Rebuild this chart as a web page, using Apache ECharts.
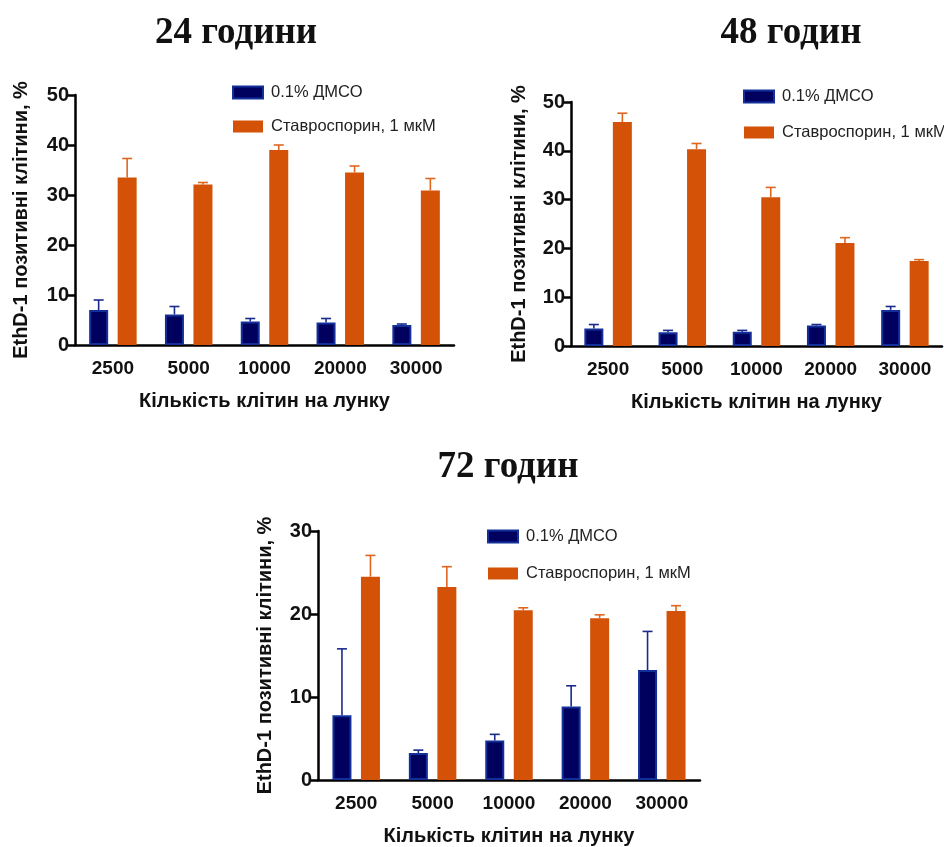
<!DOCTYPE html>
<html><head><meta charset="utf-8">
<script src="https://cdn.jsdelivr.net/npm/echarts@6/dist/echarts.min.js"></script>
<style>html,body{margin:0;padding:0;background:#fff}#c{width:944px;height:847px}</style>
</head><body><div id="c"></div>
<script>
const categories = ['2500','5000','10000','20000','30000'];
const seriesNames = ['0.1% ДМСО','Ставроспорин, 1 мкМ'];
const titles = ['24 години','48 годин','72 годин'];
const yTitle = 'EthD-1 позитивні клітини, %';
const xTitle = 'Кількість клітин на лунку';

const dmso24 = [7.0, 6.1, 4.7, 4.5, 4.0];
const dmso24Sd = [2.0, 1.6, 0.6, 0.8, 0.2];
const stauro24 = [33.5, 32.1, 39.0, 34.5, 30.9];
const stauro24Sd = [3.8, 0.4, 1.0, 1.3, 2.4];

const dmso48 = [3.6, 2.8, 2.9, 4.2, 7.4];
const dmso48Sd = [0.8, 0.4, 0.3, 0.2, 0.7];
const stauro48 = [45.9, 40.3, 30.5, 21.1, 17.4];
const stauro48Sd = [1.8, 1.2, 2.0, 1.1, 0.3];

const dmso72 = [7.8, 3.25, 4.76, 8.85, 13.25];
const dmso72Sd = [8.0, 0.35, 0.74, 2.5, 4.65];
const stauro72 = [24.5, 23.25, 20.44, 19.5, 20.36];
const stauro72Sd = [2.56, 2.45, 0.31, 0.4, 0.64];

const yMax = [50, 50, 30];

const DARK = '#00005e', DARK_BORDER = '#13309a', DARK_ERR = '#1a2a8c';
const ORANGE = '#d35207', ORANGE_ERR = '#e0661e';
const SANS = '"Liberation Sans", Arial, sans-serif';
const SERIF = '"Liberation Serif", "Times New Roman", serif';

const panels = [
  {dmso: dmso24, dmsoSd: dmso24Sd, st: stauro24, stSd: stauro24Sd,
   grid: {left: 75, top: 95, width: 379, height: 250},
   legend: {left: 227, top: 79, itemGap: 17}, title: [236, 33], yGap: 44},
  {dmso: dmso48, dmsoSd: dmso48Sd, st: stauro48, stSd: stauro48Sd,
   grid: {left: 571, top: 102, width: 371, height: 244},
   legend: {left: 738, top: 83, itemGap: 19}, title: [791, 33], yGap: 42},
  {dmso: dmso72, dmsoSd: dmso72Sd, st: stauro72, stSd: stauro72Sd,
   grid: {left: 318, top: 531, width: 382, height: 252},
   legend: {left: 482, top: 523, itemGap: 20}, title: [508, 467], yGap: 43}
];

const BW = 19, GAP = 9.5;
const OFF = (BW + GAP) / 2;

function errRender(offset, color) {
  return function (params, api) {
    const i = api.value(0), v = api.value(1), e = api.value(2);
    const b = api.coord([i, v]);
    const t = api.coord([i, v + e]);
    const x = b[0] + offset;
    return {type: 'group', children: [
      {type: 'line', shape: {x1: x, y1: b[1], x2: x, y2: t[1]}, style: {stroke: color, lineWidth: 1.6}},
      {type: 'line', shape: {x1: x - 5, y1: t[1], x2: x + 5, y2: t[1]}, style: {stroke: color, lineWidth: 1.6}}
    ]};
  };
}

const option = {
  animation: false,
  backgroundColor: '#fff',
  grid: [], xAxis: [], yAxis: [], legend: [], series: [],
  graphic: []
};

panels.forEach((p, k) => {
  option.grid.push(Object.assign({containLabel: false}, p.grid));
  option.xAxis.push({
    type: 'category', gridIndex: k, data: categories,
    axisLine: {lineStyle: {color: '#000', width: 2.5}},
    axisTick: {alignWithLabel: true, length: 9, lineStyle: {color: '#000', width: 2.5}},
    axisLabel: {color: '#111', fontFamily: SANS, fontWeight: 'bold', fontSize: 19, margin: 14},
    name: xTitle, nameLocation: 'middle', nameGap: 46,
    nameTextStyle: {color: '#111', fontFamily: SANS, fontWeight: 'bold', fontSize: 20}
  });
  option.yAxis.push({
    type: 'value', gridIndex: k, min: 0, max: yMax[k], interval: 10,
    splitLine: {show: false},
    axisLine: {show: true, lineStyle: {color: '#000', width: 2.5}},
    axisTick: {show: true, length: 9, lineStyle: {color: '#000', width: 2.5}},
    axisLabel: {color: '#111', fontFamily: SANS, fontWeight: 'bold', fontSize: 20, margin: 6},
    name: yTitle, nameLocation: 'middle', nameGap: p.yGap, nameRotate: 90,
    nameTextStyle: {color: '#111', fontFamily: SANS, fontWeight: 'bold', fontSize: 20}
  });
  option.legend.push({
    orient: 'vertical', left: p.legend.left, top: p.legend.top,
    itemWidth: 30, itemHeight: 12, itemGap: p.legend.itemGap,
    data: seriesNames.map(n => ({name: n, icon: 'rect'})), selectedMode: false,
    textStyle: {color: '#222', fontFamily: SANS, fontSize: 16.5, padding: [0, 0, 0, 3]}
  });
  option.series.push({
    name: seriesNames[0], type: 'bar', xAxisIndex: k, yAxisIndex: k,
    data: p.dmso, barWidth: BW, barGap: '50%',
    itemStyle: {color: DARK, borderColor: DARK_BORDER, borderWidth: 2}
  });
  option.series.push({
    name: seriesNames[1], type: 'bar', xAxisIndex: k, yAxisIndex: k,
    data: p.st, barWidth: BW, barGap: '50%',
    itemStyle: {color: ORANGE}
  });
  option.series.push({
    type: 'custom', xAxisIndex: k, yAxisIndex: k, z: 3,
    data: p.dmso.map((v, i) => [i, v, p.dmsoSd[i]]),
    encode: {x: 0, y: 1},
    renderItem: errRender(-OFF, DARK_ERR)
  });
  option.series.push({
    type: 'custom', xAxisIndex: k, yAxisIndex: k, z: 3,
    data: p.st.map((v, i) => [i, v, p.stSd[i]]),
    encode: {x: 0, y: 1},
    renderItem: errRender(OFF, ORANGE_ERR)
  });
  option.graphic.push({
    type: 'text', x: p.title[0], y: p.title[1],
    style: {text: titles[k], font: 'bold 37px ' + SERIF, fill: '#111',
            textAlign: 'center', textVerticalAlign: 'middle'}
  });
});

const chart = echarts.init(document.getElementById('c'), null, {renderer: 'canvas'});
chart.setOption(option);
</script>
</body></html>
